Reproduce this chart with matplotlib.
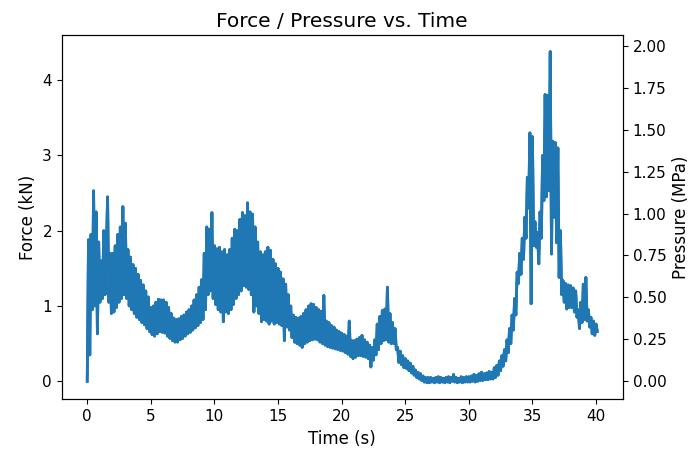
import numpy as np
import matplotlib
matplotlib.use("Agg")
import matplotlib.pyplot as plt

# Sample times (s), 0.1 s apart
time = np.round(np.arange(0.0, 40.15, 0.1), 1)

# Force (kN), one row per second (10 samples per row)
force = [
    0.00, 1.88, 0.35, 1.95, 0.95, 2.53, 1.00, 2.25, 0.63, 1.85,   # 0
    1.05, 1.60, 1.10, 2.00, 1.15, 1.75, 2.45, 1.05, 1.70, 0.90,   # 1
    1.70, 0.92, 1.80, 0.98, 1.95, 1.05, 2.05, 1.10, 2.32, 1.15,   # 2
    2.10, 1.10, 1.75, 1.00, 1.65, 0.95, 1.55, 0.90, 1.50, 0.85,   # 3
    1.42, 0.82, 1.34, 0.78, 1.28, 0.75, 1.20, 0.70, 1.12, 0.66,   # 4
    0.98, 0.62, 1.00, 0.60, 1.05, 0.63, 1.09, 0.66, 1.08, 0.65,   # 5
    1.08, 0.64, 1.05, 0.60, 0.98, 0.57, 0.90, 0.54, 0.84, 0.52,   # 6
    0.82, 0.52, 0.83, 0.55, 0.86, 0.57, 0.88, 0.60, 0.92, 0.63,   # 7
    0.95, 0.65, 1.00, 0.68, 1.08, 0.71, 1.15, 0.74, 1.25, 0.78,   # 8
    1.35, 0.82, 1.70, 0.95, 2.05, 1.15, 2.02, 1.20, 2.24, 1.10,   # 9
    1.80, 1.02, 1.76, 0.95, 1.78, 0.92, 1.72, 0.79, 1.75, 0.92,   # 10
    1.68, 0.90, 1.75, 0.95, 1.90, 1.02, 2.02, 1.10, 2.00, 1.15,   # 11
    2.15, 1.20, 2.24, 1.27, 2.20, 1.25, 2.37, 1.22, 2.25, 1.15,   # 12
    2.22, 0.92, 2.05, 1.00, 1.85, 0.90, 1.72, 0.79, 1.68, 0.82,   # 13
    1.72, 0.80, 1.78, 0.76, 1.74, 0.80, 1.62, 0.76, 1.56, 0.78,   # 14
    1.50, 0.76, 1.45, 0.74, 1.36, 0.54, 1.29, 0.72, 1.15, 0.68,   # 15
    1.00, 0.58, 0.88, 0.52, 0.85, 0.50, 0.84, 0.48, 0.86, 0.45,   # 16
    0.90, 0.50, 0.95, 0.52, 1.00, 0.54, 1.03, 0.55, 1.02, 0.56,   # 17
    0.98, 0.55, 0.95, 0.52, 0.93, 0.50, 1.14, 0.48, 0.80, 0.46,   # 18
    0.78, 0.45, 0.74, 0.44, 0.72, 0.43, 0.68, 0.42, 0.66, 0.41,   # 19
    0.64, 0.40, 0.62, 0.38, 0.60, 0.36, 0.80, 0.33, 0.54, 0.30,   # 20
    0.54, 0.32, 0.56, 0.34, 0.58, 0.34, 0.61, 0.33, 0.55, 0.32,   # 21
    0.52, 0.30, 0.48, 0.19, 0.45, 0.28, 0.55, 0.35, 0.76, 0.42,   # 22
    0.86, 0.50, 0.94, 0.54, 0.96, 0.55, 1.25, 0.52, 0.90, 0.50,   # 23
    0.78, 0.50, 0.70, 0.42, 0.45, 0.25, 0.40, 0.22, 0.34, 0.18,   # 24
    0.30, 0.17, 0.27, 0.14, 0.24, 0.11, 0.20, 0.08, 0.15, 0.05,   # 25
    0.12, 0.03, 0.10, 0.01, 0.07, -0.01, 0.05, -0.02, 0.05, -0.02,  # 26
    0.05, -0.01, 0.04, -0.02, 0.05, -0.01, 0.06, -0.02, 0.05, -0.01,  # 27
    0.04, -0.02, 0.05, -0.01, 0.06, -0.02, 0.05, 0.00, 0.09, -0.01,  # 28
    0.05, -0.02, 0.04, -0.01, 0.06, -0.02, 0.05, -0.01, 0.06, -0.01,  # 29
    0.06, -0.01, 0.07, 0.00, 0.09, -0.01, 0.08, 0.00, 0.10, 0.01,   # 30
    0.12, 0.01, 0.10, 0.02, 0.11, 0.02, 0.13, 0.03, 0.12, 0.03,   # 31
    0.18, 0.05, 0.21, 0.08, 0.27, 0.14, 0.34, 0.20, 0.42, 0.27,   # 32
    0.55, 0.38, 0.70, 0.50, 0.88, 0.68, 1.10, 0.88, 1.45, 1.30,   # 33
    1.70, 1.42, 1.90, 1.62, 2.18, 1.90, 2.71, 2.30, 3.30, 1.03,   # 34
    3.25, 1.80, 2.12, 1.78, 1.98, 1.56, 2.25, 1.90, 3.00, 2.40,   # 35
    3.81, 2.45, 3.80, 2.53, 4.38, 1.69, 3.19, 2.18, 3.17, 1.84,   # 36
    3.10, 1.38, 2.00, 1.15, 1.34, 1.05, 1.30, 0.96, 1.28, 0.98,   # 37
    1.27, 0.98, 1.24, 0.92, 1.20, 0.85, 0.95, 0.70, 1.05, 0.78,   # 38
    1.29, 0.82, 1.38, 0.80, 0.95, 0.72, 0.85, 0.63, 0.80, 0.61,   # 39
    0.76, 0.66,                                                   # 40
]

# Contact area (mm^2) linking force and pressure axes
area_mm2 = 2228.0
pressure = np.array(force) * 1000.0 / area_mm2   # MPa

fig = plt.figure(figsize=(6.92, 4.53), dpi=100)
ax = fig.add_axes([0.0892, 0.1185, 0.8108, 0.8042])
ax.plot(time, force, color="#1f77b4", linewidth=2.0)
ax.set_xlabel("Time (s)", fontsize=12)
ax.set_ylabel("Force (kN)", fontsize=12)
ax.set_title("Force / Pressure vs. Time", fontsize=14.5)
ax.tick_params(labelsize=11)

ax2 = ax.twinx()
ax2.plot(time, pressure, color="#1f77b4", linewidth=2.0)
ax2.set_ylabel("Pressure (MPa)", fontsize=12)
ax2.tick_params(labelsize=11)

fig.savefig("out.png", dpi=100)
